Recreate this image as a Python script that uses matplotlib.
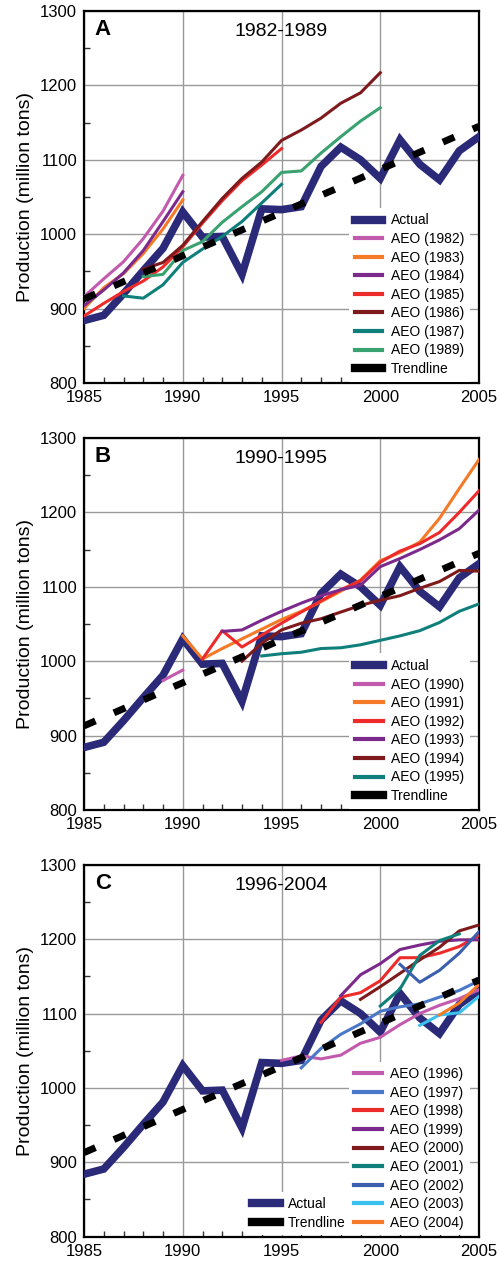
import matplotlib.pyplot as plt
from matplotlib.lines import Line2D
from matplotlib.ticker import MultipleLocator

plt.rcParams['font.family'] = ['Liberation Sans', 'DejaVu Sans']

# actual production, 1985-2005 (million tons)
years = list(range(1985, 2006))
actual = [884, 891, 920, 951, 981, 1030, 996, 997, 946, 1034, 1033, 1037,
          1091, 1117, 1100, 1075, 1127, 1094, 1073, 1112, 1131]

trend_years = [1985, 2005]
trend_vals = [913, 1145]

# panel A: forecasts 1982-1989
aeo_a = {
    "AEO (1982)": (list(range(1985, 1991)), [916, 940, 963, 994, 1031, 1079]),
    "AEO (1983)": (list(range(1985, 1991)), [900, 928, 947, 974, 1007, 1046]),
    "AEO (1984)": (list(range(1985, 1991)), [904, 925, 948, 978, 1017, 1057]),
    "AEO (1985)": (list(range(1985, 1996)), [890, 907, 923, 937, 956, 983, 1015, 1045, 1072, 1093, 1115]),
    "AEO (1986)": (list(range(1988, 2001)), [953, 962, 985, 1017, 1048, 1075, 1097, 1126, 1140, 1156, 1176, 1190, 1217]),
    "AEO (1987)": (list(range(1987, 1996)), [917, 914, 932, 962, 980, 997, 1017, 1042, 1067]),
    "AEO (1989)": (list(range(1988, 2001)), [943, 946, 978, 990, 1016, 1037, 1057, 1083, 1085, 1109, 1131, 1152, 1170]),
}
colors_a = ["#c25aae", "#f57a28", "#7b2a8c", "#ee2b2b", "#7e1a1c", "#0e7f7a", "#3aa170"]

# panel B: forecasts 1990-1995
aeo_b = {
    "AEO (1990)": ([1989, 1990], [974, 988]),
    "AEO (1991)": (list(range(1990, 2006)), [1034, 1003, 1017, 1030, 1043, 1056, 1067, 1080, 1094, 1109,
                                             1135, 1146, 1160, 1192, 1232, 1271]),
    "AEO (1992)": (list(range(1991, 2006)), [1003, 1041, 1019, 1035, 1051, 1066, 1081, 1096, 1108,
                                             1133, 1148, 1158, 1173, 1200, 1229]),
    "AEO (1993)": (list(range(1992, 2006)), [1040, 1042, 1055, 1067, 1078, 1088, 1096, 1102, 1127,
                                             1138, 1150, 1163, 1178, 1203]),
    "AEO (1994)": (list(range(1993, 2006)), [1000, 1024, 1042, 1051, 1057, 1066, 1075, 1082, 1088,
                                             1098, 1107, 1122, 1121]),
    "AEO (1995)": (list(range(1994, 2006)), [1007, 1010, 1012, 1017, 1018, 1022, 1028, 1034, 1041,
                                             1052, 1067, 1077]),
}
colors_b = ["#c25aae", "#f57a28", "#ee2b2b", "#7b2a8c", "#7e1a1c", "#0e7f7a"]

# panel C: forecasts 1996-2004
aeo_c = {
    "AEO (1996)": (list(range(1995, 2006)), [1037, 1043, 1039, 1044, 1060, 1068, 1085, 1100, 1111, 1120, 1132]),
    "AEO (1997)": (list(range(1996, 2006)), [1027, 1053, 1072, 1086, 1103, 1109, 1113, 1122, 1131, 1144]),
    "AEO (1998)": (list(range(1997, 2006)), [1088, 1122, 1128, 1144, 1175, 1175, 1181, 1190, 1205]),
    "AEO (1999)": (list(range(1998, 2006)), [1124, 1152, 1167, 1186, 1192, 1197, 1199, 1199]),
    "AEO (2000)": (list(range(1999, 2006)), [1119, 1136, 1154, 1172, 1189, 1211, 1219]),
    "AEO (2001)": (list(range(2000, 2005)), [1110, 1133, 1178, 1198, 1207]),
    "AEO (2002)": (list(range(2001, 2006)), [1166, 1142, 1158, 1181, 1210]),
    "AEO (2003)": (list(range(2002, 2006)), [1084, 1098, 1101, 1123]),
    "AEO (2004)": (list(range(2003, 2006)), [1098, 1114, 1139]),
}
colors_c = ["#c25aae", "#4a78c8", "#ee2b2b", "#7b2a8c", "#7e1a1c", "#0e7f7a", "#3b5fae", "#38c0ef", "#f57a28"]

panels = [("A", "1982-1989", aeo_a, colors_a),
          ("B", "1990-1995", aeo_b, colors_b),
          ("C", "1996-2004", aeo_c, colors_c)]

navy = "#2b2a78"
fig = plt.figure(figsize=(5, 12.64), dpi=100)
bottoms = [0.697, 0.3592, 0.0216]

for (letter, title, aeo, cols), b in zip(panels, bottoms):
    ax = fig.add_axes([0.168, b, 0.79, 0.2943])
    ax.plot(years, actual, color=navy, lw=5.5, solid_joinstyle='miter', zorder=3)
    handles = []
    for (name, (xs, ys)), c in zip(aeo.items(), cols):
        ax.plot(xs, ys, color=c, lw=2.2, zorder=4)
        handles.append(Line2D([], [], color=c, lw=3, label=name))
    ax.plot(trend_years, trend_vals, color="black", lw=5, dashes=(1.8, 2.9), zorder=5)

    h_act = Line2D([], [], color=navy, lw=6, label="Actual")
    h_trend = Line2D([], [], color="black", lw=6, label="Trendline")

    ax.set_xlim(1985, 2005)
    ax.set_ylim(800, 1300)
    ax.xaxis.set_major_locator(MultipleLocator(5))
    ax.xaxis.set_minor_locator(MultipleLocator(1))
    ax.yaxis.set_major_locator(MultipleLocator(100))
    ax.yaxis.set_minor_locator(MultipleLocator(50))
    ax.tick_params(which='major', length=0, labelsize=12, pad=5)
    ax.tick_params(which='minor', direction='in', length=4, width=1, color='#333333')
    ax.grid(True, which='major', color='#999999', lw=1)
    ax.set_axisbelow(True)
    for s in ax.spines.values():
        s.set_linewidth(1.6)
    ax.set_ylabel("Production (million tons)", fontsize=14, labelpad=4)

    ax.text(0.048, 0.95, letter, transform=ax.transAxes, fontsize=16, fontweight='bold',
            ha='center', va='center')
    ax.text(0.5, 0.945, title, transform=ax.transAxes, fontsize=14, ha='center', va='center')

    leg_kw = dict(fontsize=10, handlelength=2.0, handletextpad=0.6, labelspacing=0.33,
                  frameon=True, facecolor='white', edgecolor='none', framealpha=1,
                  borderaxespad=0.1, fancybox=False)
    if letter == "C":
        leg1 = ax.legend(handles=handles, loc='lower right', bbox_to_anchor=(0.98, 0.0), **leg_kw)
        ax.add_artist(leg1)
        ax.legend(handles=[h_act, h_trend], loc='lower right', bbox_to_anchor=(0.68, 0.0), **leg_kw)
    else:
        ax.legend(handles=[h_act] + handles + [h_trend], loc='lower right',
                  bbox_to_anchor=(0.98, 0.0), **leg_kw)

fig.savefig("out.png", dpi=100)
